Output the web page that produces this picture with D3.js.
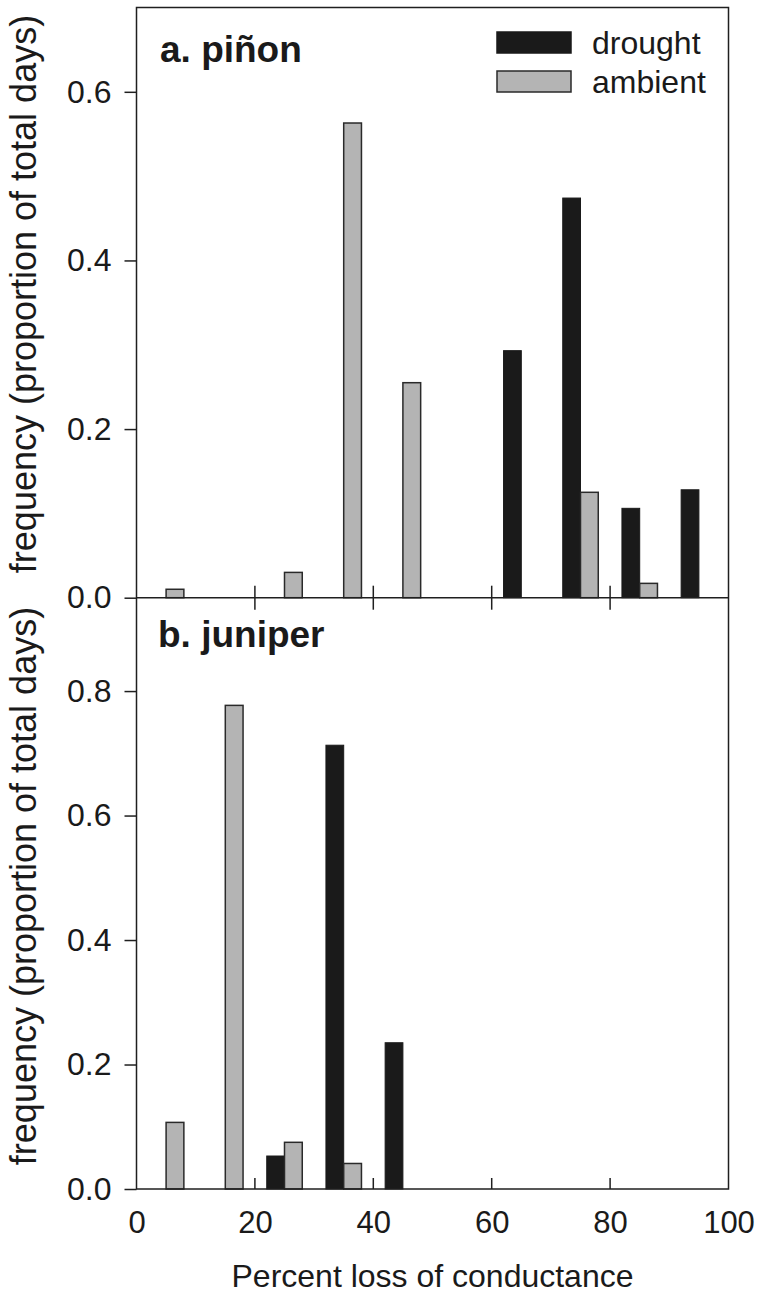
<!DOCTYPE html>
<html>
<head>
<meta charset="utf-8">
<script src="https://cdn.jsdelivr.net/npm/d3@7/dist/d3.min.js"></script>
<style>
  html, body { margin: 0; padding: 0; background: #fff; }
  svg { display: block; font-family: "Liberation Sans", Arial, Helvetica, sans-serif; }
</style>
</head>
<body>
<svg id="chart" width="758" height="1299"></svg>
<script>
// Bins of percent loss of conductance (bin centres, 10-unit bins)
const binCenters = [5, 15, 25, 35, 45, 55, 65, 75, 85, 95];

// Frequency (proportion of total days) per bin
const pinonDrought   = [0, 0, 0, 0, 0, 0, 0.293, 0.474, 0.106, 0.128];
const pinonAmbient   = [0.010, 0, 0.030, 0.563, 0.255, 0, 0, 0.125, 0.017, 0];
const juniperDrought = [0, 0, 0.053, 0.713, 0.235, 0, 0, 0, 0, 0];
const juniperAmbient = [0.107, 0.777, 0.075, 0.041, 0, 0, 0, 0, 0, 0];

const xTicks = [0, 20, 40, 60, 80, 100];
const yTicksA = [0, 0.2, 0.4, 0.6];
const yTicksB = [0, 0.2, 0.4, 0.6, 0.8];

const seriesNames = ["drought", "ambient"];
const panelTitles = ["a. piñon", "b. juniper"];
const xTitle = "Percent loss of conductance";
const yTitle = "frequency (proportion of total days)";

const svg = d3.select("#chart");

const left = 136.5, right = 728.5;
const topA = 7.5, baseA = 597.7, baseB = 1189;

const x = d3.scaleLinear().domain([0, 100]).range([left, right]);
const yA = d3.scaleLinear().domain([0, 0.7]).range([baseA, topA]);
const yB = d3.scaleLinear().domain([0, 0.95]).range([baseB, baseA]);

const ink = "#1f1f1f";
const droughtFill = "#1a1a1a";
const ambientFill = "#b4b4b4";
const barW = 3; // bar width in x units

function fmt(v) { return d3.format(".1f")(v); }

function drawBars(g, y, drought, ambient) {
  const d = binCenters.map((c, i) => ({c, v: drought[i]})).filter(o => o.v > 0);
  const a = binCenters.map((c, i) => ({c, v: ambient[i]})).filter(o => o.v > 0);
  g.selectAll(null).data(d).enter().append("rect")
    .attr("x", o => x(o.c - barW))
    .attr("width", o => x(o.c) - x(o.c - barW))
    .attr("y", o => y(o.v))
    .attr("height", o => y(0) - y(o.v))
    .attr("fill", droughtFill)
    .attr("stroke", droughtFill)
    .attr("stroke-width", 1);
  g.selectAll(null).data(a).enter().append("rect")
    .attr("x", o => x(o.c))
    .attr("width", o => x(o.c + barW) - x(o.c))
    .attr("y", o => y(o.v))
    .attr("height", o => y(0) - y(o.v))
    .attr("fill", ambientFill)
    .attr("stroke", "#2a2a2a")
    .attr("stroke-width", 1.5);
}

const gA = svg.append("g");
const gB = svg.append("g");
drawBars(gA, yA, pinonDrought, pinonAmbient);
drawBars(gB, yB, juniperDrought, juniperAmbient);

// Frame
const frame = svg.append("g").attr("fill", "none").attr("stroke", ink).attr("stroke-width", 1.5);
frame.append("rect").attr("x", left).attr("y", topA).attr("width", right - left).attr("height", baseB - topA);
frame.append("line").attr("x1", left).attr("x2", right).attr("y1", baseA).attr("y2", baseA);

// Y axes (ticks outward, labels left)
function yAxis(y, ticks) {
  const ax = d3.axisLeft(y).tickValues(ticks).tickFormat(fmt).tickSize(12).tickPadding(13);
  const g = svg.append("g").attr("transform", `translate(${left},0)`).call(ax);
  g.select(".domain").remove();
  g.selectAll(".tick line").attr("stroke", ink).attr("stroke-width", 1.5);
  g.selectAll(".tick text").attr("fill", "#1a1a1a").attr("font-size", 32).attr("font-family", "Liberation Sans, Arial, sans-serif");
}
yAxis(yA, yTicksA);
yAxis(yB, yTicksB);

// X ticks on panel a baseline: crossing the axis
const innerX = xTicks.filter(t => t > 0 && t < 100);
svg.append("g").selectAll("line").data(innerX).enter().append("line")
  .attr("x1", d => x(d)).attr("x2", d => x(d))
  .attr("y1", baseA - 12).attr("y2", baseA + 12)
  .attr("stroke", ink).attr("stroke-width", 1.5);

// X axis at bottom: inward ticks with labels below
const axB = d3.axisBottom(x).tickValues(xTicks).tickFormat(d3.format("d")).tickSize(0).tickPadding(22);
const gx = svg.append("g").attr("transform", `translate(0,${baseB})`).call(axB);
gx.select(".domain").remove();
gx.selectAll(".tick text").attr("fill", "#1a1a1a").attr("font-size", 31).attr("font-family", "Liberation Sans, Arial, sans-serif");
svg.append("g").selectAll("line").data(innerX).enter().append("line")
  .attr("x1", d => x(d)).attr("x2", d => x(d))
  .attr("y1", baseB - 11).attr("y2", baseB)
  .attr("stroke", ink).attr("stroke-width", 1.5);

// Axis titles
svg.append("text")
  .attr("x", x(50)).attr("y", 1287)
  .attr("text-anchor", "middle").attr("font-size", 32).attr("fill", "#1a1a1a")
  .text(xTitle);

[294, 886].forEach(cy => {
  svg.append("text")
    .attr("transform", `translate(36,${cy}) rotate(-90)`)
    .attr("text-anchor", "middle").attr("font-size", 36).attr("fill", "#1a1a1a")
    .text(yTitle);
});

// Panel titles
svg.append("text").attr("x", 160).attr("y", 62)
  .attr("font-size", 37).attr("font-weight", "bold").attr("fill", "#1a1a1a").text(panelTitles[0]);
svg.append("text").attr("x", 158).attr("y", 647)
  .attr("font-size", 37).attr("font-weight", "bold").attr("fill", "#1a1a1a").text(panelTitles[1]);

// Legend
const legend = svg.append("g");
const legendRows = [
  {name: seriesNames[0], fill: droughtFill, stroke: droughtFill, y: 32},
  {name: seriesNames[1], fill: ambientFill, stroke: "#2a2a2a", y: 71}
];
legendRows.forEach(r => {
  legend.append("rect").attr("x", 497).attr("y", r.y).attr("width", 74).attr("height", 21)
    .attr("fill", r.fill).attr("stroke", r.stroke).attr("stroke-width", 1.5);
  legend.append("text").attr("x", 592).attr("y", r.y + 22)
    .attr("font-size", 32).attr("fill", "#1a1a1a").text(r.name);
});
</script>
</body>
</html>
